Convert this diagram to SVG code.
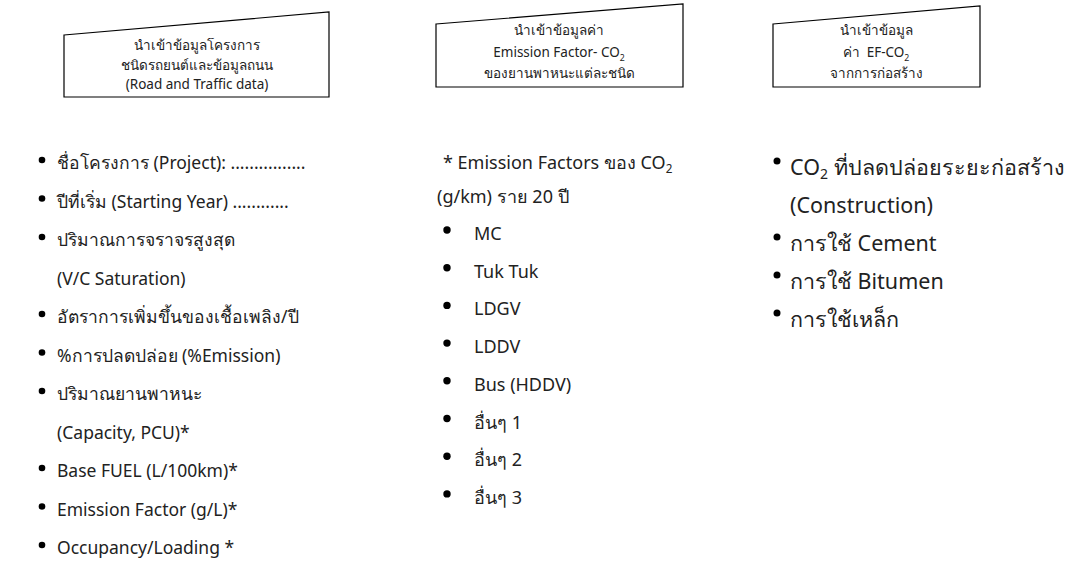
<svg xmlns="http://www.w3.org/2000/svg" width="1087" height="565" viewBox="0 0 1087 565">
<style>
.box{fill:#fff;stroke:#000;stroke-width:1.2}
.bt{font-family:"Noto Sans",sans-serif;font-size:13.5px;fill:#222;text-anchor:middle}
.t1{font-family:"Noto Sans",sans-serif;font-size:17.5px;fill:#222}
.t2{font-family:"Noto Sans",sans-serif;font-size:18px;fill:#222}
.t3{font-family:"Noto Sans",sans-serif;font-size:21.5px;fill:#222}
.sub{font-size:0.65em}
.bul{fill:#000}
</style>
<rect width="1087" height="565" fill="#fff"/>
<g id="node-road">
<polygon class="box" points="64,35 329,12 329,97 64,97"/>
<text class="bt" x="197" y="50">นำเข้าข้อมูลโครงการ</text>
<text class="bt" x="197" y="70">ชนิดรถยนต์และข้อมูลถนน</text>
<text class="bt" x="197" y="89">(Road and Traffic data)</text>
</g>
<g id="node-ef">
<polygon class="box" points="436,24 683,4 683,87 436,87"/>
<text class="bt" x="559" y="35">นำเข้าข้อมูลค่า</text>
<text class="bt" x="559" y="57">Emission Factor- CO<tspan class="sub" dy="4">2</tspan></text>
<text class="bt" x="559" y="78">ของยานพาหนะแต่ละชนิด</text>
</g>
<g id="node-construction">
<polygon class="box" points="773,24 980,6 980,87 773,87"/>
<text class="bt" x="876" y="35">นำเข้าข้อมูล</text>
<text class="bt" x="876" y="57">ค่า&#160; EF-CO<tspan class="sub" dy="4">2</tspan></text>
<text class="bt" x="876" y="78">จากการก่อสร้าง</text>
</g>
<g id="list-road">
<circle class="bul" cx="42" cy="160" r="3.3"/>
<circle class="bul" cx="42" cy="198.5" r="3.3"/>
<circle class="bul" cx="42" cy="237" r="3.3"/>
<circle class="bul" cx="42" cy="314" r="3.3"/>
<circle class="bul" cx="42" cy="352.5" r="3.3"/>
<circle class="bul" cx="42" cy="391" r="3.3"/>
<circle class="bul" cx="42" cy="468" r="3.3"/>
<circle class="bul" cx="42" cy="506.5" r="3.3"/>
<circle class="bul" cx="42" cy="545" r="3.3"/>
<text class="t1" x="57" y="169">ชื่อโครงการ (Project): ................</text>
<text class="t1" x="57" y="207.5">ปีที่เริ่ม (Starting Year) ............</text>
<text class="t1" x="57" y="246">ปริมาณการจราจรสูงสุด</text>
<text class="t1" x="57" y="284.5">(V/C Saturation)</text>
<text class="t1" x="57" y="323">อัตราการเพิ่มขึ้นของเชื้อเพลิง/ปี</text>
<text class="t1" x="57" y="361.5">%การปลดปล่อย (%Emission)</text>
<text class="t1" x="57" y="400">ปริมาณยานพาหนะ</text>
<text class="t1" x="57" y="438.5">(Capacity, PCU)*</text>
<text class="t1" x="57" y="477">Base FUEL (L/100km)*</text>
<text class="t1" x="57" y="515.5">Emission Factor (g/L)*</text>
<text class="t1" x="57" y="554">Occupancy/Loading *</text>
</g>
<g id="list-ef">
<text class="t2" x="443" y="169">* Emission Factors ของ CO<tspan class="sub" dy="4">2</tspan></text>
<text class="t2" x="437" y="203">(g/km) ราย 20 ปี</text>
<circle class="bul" cx="447" cy="230" r="3.7"/>
<circle class="bul" cx="447" cy="267.7" r="3.7"/>
<circle class="bul" cx="447" cy="305.4" r="3.7"/>
<circle class="bul" cx="447" cy="343.1" r="3.7"/>
<circle class="bul" cx="447" cy="380.8" r="3.7"/>
<circle class="bul" cx="447" cy="418.5" r="3.7"/>
<circle class="bul" cx="447" cy="456.2" r="3.7"/>
<circle class="bul" cx="447" cy="493.9" r="3.7"/>
<text class="t2" x="474" y="240">MC</text>
<text class="t2" x="474" y="277.7">Tuk Tuk</text>
<text class="t2" x="474" y="315.4">LDGV</text>
<text class="t2" x="474" y="353.1">LDDV</text>
<text class="t2" x="474" y="390.8">Bus (HDDV)</text>
<text class="t2" x="474" y="428.5">อื่นๆ 1</text>
<text class="t2" x="474" y="466.2">อื่นๆ 2</text>
<text class="t2" x="474" y="503.9">อื่นๆ 3</text>
</g>
<g id="list-construction">
<circle class="bul" cx="777" cy="161" r="3.5"/>
<circle class="bul" cx="777" cy="237" r="3.5"/>
<circle class="bul" cx="777" cy="275" r="3.5"/>
<circle class="bul" cx="777" cy="313" r="3.5"/>
<text class="t3" x="790" y="175">CO<tspan class="sub" dy="4">2</tspan><tspan dy="-4"> ที่ปลดปล่อยระยะก่อสร้าง</tspan></text>
<text class="t3" x="790" y="213">(Construction)</text>
<text class="t3" x="790" y="251">การใช้ Cement</text>
<text class="t3" x="790" y="289">การใช้ Bitumen</text>
<text class="t3" x="790" y="327">การใช้เหล็ก</text>
</g>
<g id="connectors"/>
</svg>
